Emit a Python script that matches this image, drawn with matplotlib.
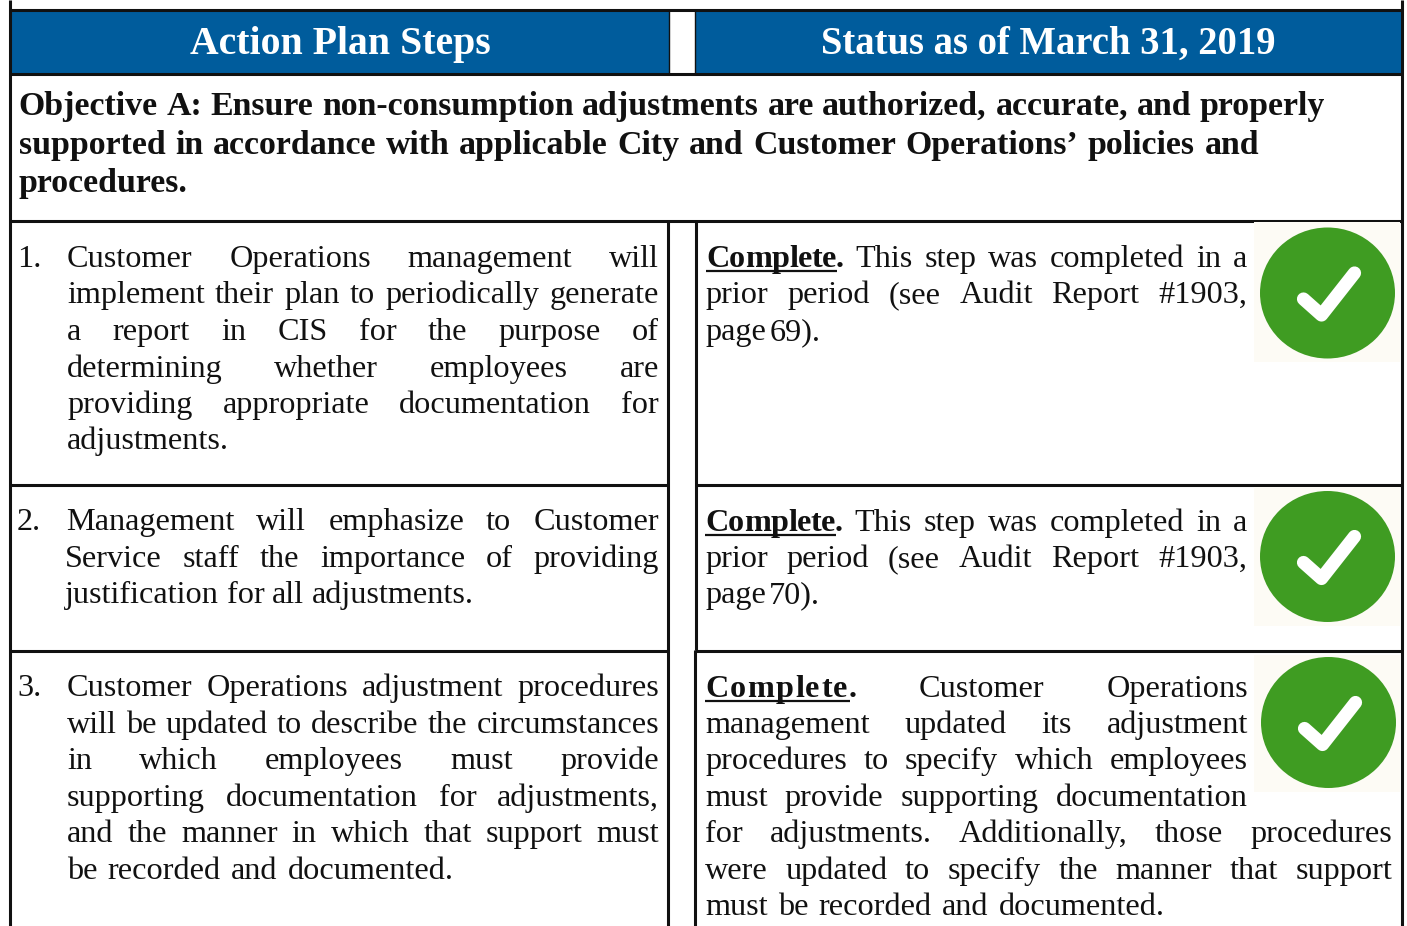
import matplotlib
matplotlib.use("Agg")
import matplotlib.pyplot as plt
from matplotlib.patches import Rectangle, Ellipse

FONT = "Liberation Serif"
BLUE = "#005C9C"
GREEN = "#3F9C22"
CREAM = "#FDFBF5"
BODY = 23.2
BOLD = 24.4

headers = ["Action Plan Steps", "Status as of March 31, 2019"]
header_x = [340, 1048]
header_size = [28.6, 27.8]

objective_lines = [
    "Objective A: Ensure non-consumption adjustments are authorized, accurate, and properly",
    "supported in accordance with applicable City and Customer Operations\u2019 policies and",
    "procedures.",
]
objective_base = [115, 154, 192]
objective_span = [(18.5, 1325), (18.5, 1259), (18.5, 188)]

numbers = ["1.", "2.", "3."]
number_base = [267, 530, 696]

left_lines = [
    ["Customer Operations management will", "implement their plan to periodically generate",
     "a report in CIS for the purpose of", "determining whether employees are",
     "providing appropriate documentation for", "adjustments."],
    ["Management will emphasize to Customer", "Service staff the importance of providing",
     "justification for all adjustments."],
    ["Customer Operations adjustment procedures", "will be updated to describe the circumstances",
     "in which employees must provide", "supporting documentation for adjustments,",
     "and the manner in which that support must", "be recorded and documented."],
]
left_base = [
    [267, 303, 340, 377, 413, 449],
    [530, 567, 603],
    [696, 733, 769, 806, 842, 879],
]
left_span = [
    [(67, 659), (67, 659), (67, 659), (67, 659), (67, 659), (67, 231)],
    [(66, 659), (65, 659), (65, 474)],
    [(67, 659), (67, 659), (67, 659), (67, 659), (67, 659), (67, 454)],
]

right_lines = [
    ["Complete. This step was completed in a", "prior period (see Audit Report #1903,", "page 69)."],
    ["Complete. This step was completed in a", "prior period (see Audit Report #1903,", "page 70)."],
    ["Complete. Customer Operations", "management updated its adjustment",
     "procedures to specify which employees", "must provide supporting documentation",
     "for adjustments.  Additionally, those procedures", "were updated to specify the manner that support",
     "must be recorded and documented."],
]
right_base = [
    [267, 303, 340],
    [531, 567, 603],
    [697, 733, 769, 806, 842, 879, 915],
]
right_span = [
    [(706, 1247), (706, 1247), (706, 821)],
    [(705, 1247), (705, 1247), (705, 820)],
    [(705, 1248), (705, 1248), (705, 1248), (705, 1248), (705, 1392), (705, 1392), (705, 1165)],
]

badge_centers = [(1327.5, 293), (1327.5, 556.5), (1328.5, 722.5)]
badge_boxes = [(1254, 222, 146, 140), (1254, 487, 146, 139), (1254, 655, 146, 137)]
check_x = [-24, -6, 27]
check_y = [6, 22, -20]

fig = plt.figure(figsize=(14.07, 9.26), dpi=100)
ax = fig.add_axes([0, 0, 1, 1])
ax.set_xlim(0, 1407)
ax.set_ylim(926, 0)
ax.axis("off")
renderer = fig.canvas.get_renderer()


def word_width(word, size, weight):
    t = ax.text(0, 0, word, fontsize=size, fontweight=weight, family=FONT)
    w = t.get_window_extent(renderer).width
    t.remove()
    return w


def justified(line, base, span, size=BODY, weight="normal", lead_bold=False, lead_width=None):
    words = line.split()
    x0, x1 = span
    sizes = []
    for i, w in enumerate(words):
        if lead_bold and i == 0:
            sizes.append(("bold", lead_width))
        else:
            sizes.append((weight, word_width(w, size, weight)))
    total = sum(s[1] for s in sizes)
    gap = (x1 - x0 - total) / max(len(words) - 1, 1)
    x = x0
    for i, w in enumerate(words):
        wt, wid = sizes[i]
        if lead_bold and i == 0:
            natural = word_width(w, size, wt)
            track = (wid - natural) / (len(w) - 1)
            for k in range(len(w)):
                pos = word_width(w[:k + 1], size, wt) - word_width(w[k], size, wt)
                ax.text(x + pos + track * k, base, w[k], fontsize=size, fontweight=wt, family=FONT,
                        va="baseline", ha="left", color="#111111")
            ax.plot([x, x + wid - 7], [base + 3.5, base + 3.5], color="#111111", lw=1.6,
                    solid_capstyle="butt")
        else:
            ax.text(x, base, w, fontsize=size, fontweight=wt, family=FONT,
                    va="baseline", ha="left", color="#111111")
        x += wid + gap


# header bands
ax.add_patch(Rectangle((10, 11), 659, 63, fc=BLUE, ec="none"))
ax.add_patch(Rectangle((695, 11), 707, 63, fc=BLUE, ec="none"))
for text, x, fs in zip(headers, header_x, header_size):
    ax.text(x, 54, text, fontsize=fs, fontweight="bold", color="white", family=FONT,
            ha="center", va="baseline")

# objective
for line, base, span in zip(objective_lines, objective_base, objective_span):
    justified(line, base, span, size=BOLD, weight="bold")

# body
for k, num in enumerate(numbers):
    ax.text(17, number_base[k], num, fontsize=BODY, family=FONT, va="baseline", color="#111111")
for lines, bases, spans in zip(left_lines, left_base, left_span):
    for line, base, span in zip(lines, bases, spans):
        justified(line, base, span)
lead_widths = [138, 138, 152]
for r, (lines, bases, spans) in enumerate(zip(right_lines, right_base, right_span)):
    for i, (line, base, span) in enumerate(zip(lines, bases, spans)):
        justified(line, base, span, lead_bold=(i == 0), lead_width=lead_widths[r])

# rules
K = "#111111"
def hline(y, a, b, lw=2.2):
    ax.plot([a, b], [y, y], color=K, lw=lw, solid_capstyle="butt", zorder=5)
def vline(x, a, b, lw=2.2):
    ax.plot([x, x], [a, b], color=K, lw=lw, solid_capstyle="butt", zorder=5)

hline(10, 9, 1403)
hline(74, 9, 1403)
hline(220.5, 9, 1403)
for y in (484.5, 650.5):
    hline(y, 9, 669)
    hline(y, 695, 1403)
vline(10, 0, 926)
vline(1402, 0, 926)
vline(668, 220, 926)
vline(696, 220, 650)
vline(695, 650, 926)
vline(669, 10, 74, lw=1)
vline(695, 10, 74, lw=1)

# status badges
for (cx, cy), (bx, by, bw, bh) in zip(badge_centers, badge_boxes):
    ax.add_patch(Rectangle((bx, by), bw, bh, fc=CREAM, ec="none", zorder=6))
    ax.add_patch(Ellipse((cx, cy), 135, 131, fc=GREEN, ec="none", zorder=7))
    ax.plot([cx + v for v in check_x], [cy + v for v in check_y], color="white", lw=9.5,
            solid_capstyle="round", solid_joinstyle="round", zorder=8)

fig.savefig("out.png", dpi=100, facecolor="white")
